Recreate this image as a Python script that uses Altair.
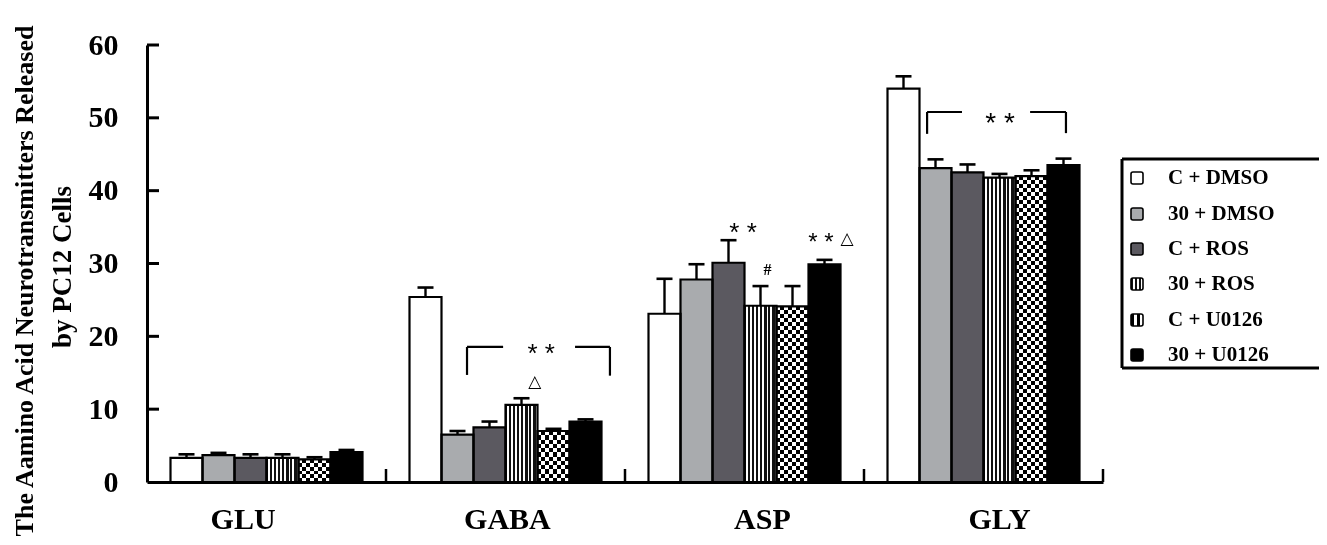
import altair as alt
import pandas as pd

# ---------------- data ----------------
groups = ["GLU", "GABA", "ASP", "GLY"]
series = ["C + DMSO", "30 + DMSO", "C + ROS", "30 + ROS", "C + U0126", "30 + U0126"]

c_dmso = [3.3, 25.4, 23.1, 54.0]
c_dmso_err = [0.5, 1.3, 4.8, 1.7]
d30_dmso = [3.7, 6.5, 27.8, 43.1]
d30_dmso_err = [0.3, 0.5, 2.1, 1.2]
c_ros = [3.3, 7.5, 30.1, 42.5]
c_ros_err = [0.5, 0.8, 3.1, 1.1]
r30_ros = [3.3, 10.6, 24.2, 41.8]
r30_ros_err = [0.5, 0.9, 2.7, 0.5]
c_u0126 = [3.1, 7.0, 24.1, 42.0]
c_u0126_err = [0.3, 0.3, 2.8, 0.8]
u30_u0126 = [4.1, 8.3, 29.9, 43.5]
u30_u0126_err = [0.3, 0.3, 0.6, 0.9]

values = [c_dmso, d30_dmso, c_ros, r30_ros, c_u0126, u30_u0126]
errors = [c_dmso_err, d30_dmso_err, c_ros_err, r30_ros_err, c_u0126_err, u30_u0126_err]

y_ticks = [0, 10, 20, 30, 40, 50, 60]
# x positions (in group units) where the group names are printed
group_label_pos = [-0.10, 1.006, 2.073, 3.065]

# significance annotations (data units)
ann_stars = [("* *", 1.149, 17.6, 26), ("* *", 1.994, 34.2, 26), ("* *", 2.320, 32.8, 24), ("* *", 3.069, 49.2, 28)]
ann_tri = [("\u25b3", 1.123, 13.7), ("\u25b3", 2.429, 33.4)]
ann_hash = [("#", 2.096, 29.1)]
brackets = [
    (0.839, 14.7, 0.839, 18.54), (0.839, 18.54, 0.990, 18.54),
    (1.291, 18.54, 1.437, 18.54), (1.437, 18.54, 1.437, 14.6),
    (2.764, 47.8, 2.764, 50.8), (2.764, 50.8, 2.910, 50.8),
    (3.195, 50.8, 3.345, 50.8), (3.345, 50.8, 3.345, 47.9),
]
title_lines = ["The Aamino Acid Neurotransmitters Released", "by PC12 Cells"]

# ---------------- layout ----------------
W, H = 956, 437
X0, Y0 = 147, 45
XDOM = [-0.5, 3.5]
YDOM = [0, 60]
BW = 32 / W * (XDOM[1] - XDOM[0])
CAP = 16 / W * (XDOM[1] - XDOM[0])
PXY = H / (YDOM[1] - YDOM[0])
SVG_RIGHT = 1319  # page x where the drawing ends


def dx(px):
    return XDOM[0] + (px - X0) / W * (XDOM[1] - XDOM[0])


def dy(py):
    return YDOM[1] - (py - Y0) / H * (YDOM[1] - YDOM[0])


def stripes(n, c1, c2, frac=0.5, along_x=True):
    stops = []
    for k in range(n):
        a, m, b = k / n, (k + frac) / n, (k + 1) / n
        stops += [{"offset": a, "color": c1}, {"offset": m, "color": c1},
                  {"offset": m, "color": c2}, {"offset": b, "color": c2}]
    g = {"gradient": "linear", "stops": stops, "x1": 0, "y1": 0}
    if along_x:
        g.update({"x2": 1, "y2": 0})
    else:
        g.update({"x2": 0, "y2": 1})
    return g


fills = ["#ffffff", "#a9abae", "#5b5960",
         stripes(8, "#111111", "#ffffff", 0.5),
         stripes(4, "#000000", "#ffffff", 0.5),
         "#000000"]
leg_fills = ["#ffffff", "#a9abae", "#5b5960",
             stripes(3, "#111111", "#ffffff", 0.5),
             stripes(2, "#000000", "#ffffff", 0.5),
             "#000000"]

rows = []
for j, s in enumerate(series):
    for i, g in enumerate(groups):
        xl = i + (j - 3) * BW
        v = values[j][i]
        e = errors[j][i]
        rows.append({"group": g, "series": s, "gi": i, "v": v, "top": v + e, "zero": 0,
                     "xl": xl, "xr": xl + BW, "xc": xl + BW / 2,
                     "cl": xl + BW / 2 - CAP / 2, "cr": xl + BW / 2 + CAP / 2})
bars = pd.DataFrame(rows)

SERIF = "Liberation Serif"
SANS = "Liberation Sans"
label_expr = "[" + ",".join("'%s'" % g for g in groups) + "][round(datum.value)]"

xs = alt.Scale(domain=XDOM, nice=False, zero=False)
ys = alt.Scale(domain=YDOM, nice=False, zero=False)
x_axis = alt.Axis(values=group_label_pos, labelExpr=label_expr, ticks=False, tickSize=0, grid=False,
                  domainWidth=3, domainColor="black", labelFont=SERIF, labelFontWeight="bold",
                  labelFontSize=30, labelColor="black", labelPadding=46, labelBaseline="alphabetic",
                  labelFlush=False, labelOverlap=False, title=None)
y_axis = alt.Axis(values=y_ticks, ticks=False, tickSize=0, grid=False, domainWidth=3,
                  domainColor="black", labelFont=SERIF, labelFontWeight="bold", labelFontSize=30,
                  labelColor="black", labelPadding=29, title=None)


def X(f):
    return alt.X(f, scale=xs, axis=x_axis)


def Y(f):
    return alt.Y(f, scale=ys, axis=y_axis)


layers = []
# bar fills
for j, s in enumerate(series):
    d = bars[bars.series == s]
    layers.append(alt.Chart(d).mark_rect(fill=fills[j], strokeWidth=0).encode(
        x=X("xl:Q"), x2="xr:Q", y=Y("v:Q"), y2="zero:Q"))

# checkerboard overlay for C + U0126 (difference blend with horizontal stripes)
cu = bars[bars.series == "C + U0126"]
for i, g in enumerate(groups):
    d = cu[cu.gi == i]
    n = max(2, round(c_u0126[i] * PXY / 8))
    layers.append(alt.Chart(d).mark_rect(
        fill=stripes(n, "#ffffff", "rgba(255,255,255,0)", 0.5, along_x=False),
        blend="difference", strokeWidth=0).encode(
        x=X("xl:Q"), x2="xr:Q", y=Y("v:Q"), y2="zero:Q"))

# bar outlines
layers.append(alt.Chart(bars).mark_rect(fill="transparent", stroke="black", strokeWidth=2.2).encode(
    x=X("xl:Q"), x2="xr:Q", y=Y("v:Q"), y2="zero:Q"))

# error bars (upper only)
layers.append(alt.Chart(bars).mark_rule(color="black", strokeWidth=2.4).encode(
    x=X("xc:Q"), y=Y("v:Q"), y2="top:Q"))
layers.append(alt.Chart(bars).mark_rule(color="black", strokeWidth=2.6).encode(
    x=X("cl:Q"), x2="cr:Q", y=Y("top:Q")))

# inward y ticks
layers.append(alt.Chart(pd.DataFrame({"t": y_ticks[1:]})).mark_rule(color="black", strokeWidth=3).encode(
    y=Y("t:Q"), x=alt.value(0), x2=alt.value(12)))
# inward x ticks at group boundaries
layers.append(alt.Chart(pd.DataFrame({"t": [0.5, 1.5, 2.5, 3.5]})).mark_rule(color="black", strokeWidth=2.5).encode(
    x=X("t:Q"), y=alt.value(H), y2=alt.value(H - 13)))

# brackets
bdf = pd.DataFrame(brackets, columns=["x1", "y1", "x2", "y2"])
layers.append(alt.Chart(bdf).mark_rule(color="black", strokeWidth=2.2).encode(
    x=X("x1:Q"), x2="x2:Q", y=Y("y1:Q"), y2="y2:Q"))

# annotation texts
sdf = pd.DataFrame(ann_stars, columns=["t", "x", "y", "s"])
for size in sorted(set(sdf.s)):
    layers.append(alt.Chart(sdf[sdf.s == size]).mark_text(
        font=SANS, fontSize=int(size), color="black", align="center", baseline="middle").encode(
        x=X("x:Q"), y=Y("y:Q"), text="t:N"))
tdf = pd.DataFrame(ann_tri, columns=["t", "x", "y"])
layers.append(alt.Chart(tdf).mark_text(font="DejaVu Sans", fontSize=17, color="black",
                                       align="center", baseline="middle").encode(
    x=X("x:Q"), y=Y("y:Q"), text="t:N"))
hdf = pd.DataFrame(ann_hash, columns=["t", "x", "y"])
layers.append(alt.Chart(hdf).mark_text(font=SERIF, fontWeight="bold", fontSize=16, color="black",
                                       align="center", baseline="middle").encode(
    x=X("x:Q"), y=Y("y:Q"), text="t:N"))

# y title (two lines)
layers.append(alt.Chart(pd.DataFrame({"t": [title_lines[0]]})).mark_text(
    angle=270, align="center", baseline="alphabetic", font=SERIF, fontWeight="bold",
    fontSize=26, color="black").encode(x=alt.value(-114), y=alt.value(236), text="t:N"))
layers.append(alt.Chart(pd.DataFrame({"t": [title_lines[1]]})).mark_text(
    angle=270, align="center", baseline="alphabetic", font=SERIF, fontWeight="bold",
    fontSize=27, color="black").encode(x=alt.value(-76), y=alt.value(222), text="t:N"))

# legend frame (right side runs off the picture)
frame = pd.DataFrame({
    "x1": [dx(1122), dx(1122), dx(1122)],
    "x2": [dx(SVG_RIGHT), dx(SVG_RIGHT), dx(1122)],
    "y1": [dy(159), dy(368), dy(159)],
    "y2": [dy(159), dy(368), dy(368)],
})
layers.append(alt.Chart(frame).mark_rule(color="black", strokeWidth=3).encode(
    x=X("x1:Q"), x2="x2:Q", y=Y("y1:Q"), y2="y2:Q"))
row_py = [178, 214, 249, 284, 320, 355]
for j, s in enumerate(series):
    sq = pd.DataFrame({"x1": [dx(1131)], "x2": [dx(1143)], "y1": [dy(row_py[j] - 6)], "y2": [dy(row_py[j] + 6)]})
    layers.append(alt.Chart(sq).mark_rect(fill=leg_fills[j], stroke="black", strokeWidth=1.6,
                                          cornerRadius=2).encode(
        x=X("x1:Q"), x2="x2:Q", y=Y("y1:Q"), y2="y2:Q"))
ldf = pd.DataFrame({"t": series, "x": [dx(1168)] * 6, "y": [dy(p) for p in row_py]})
layers.append(alt.Chart(ldf).mark_text(font=SERIF, fontWeight="bold", fontSize=21, color="black",
                                       align="left", baseline="middle").encode(
    x=X("x:Q"), y=Y("y:Q"), text="t:N"))

chart = alt.layer(*layers).properties(
    width=W, height=H,
    autosize=alt.AutoSizeParams(type="none"),
    padding={"left": X0 - 8, "top": Y0 - 8, "right": SVG_RIGHT - 8 - (X0 - 8) - W,
             "bottom": 529 - (Y0 - 8) - H},
).configure_view(stroke=None).configure_axis(grid=False)

chart.save("out.html", embed_options={"renderer": "svg", "actions": False})
